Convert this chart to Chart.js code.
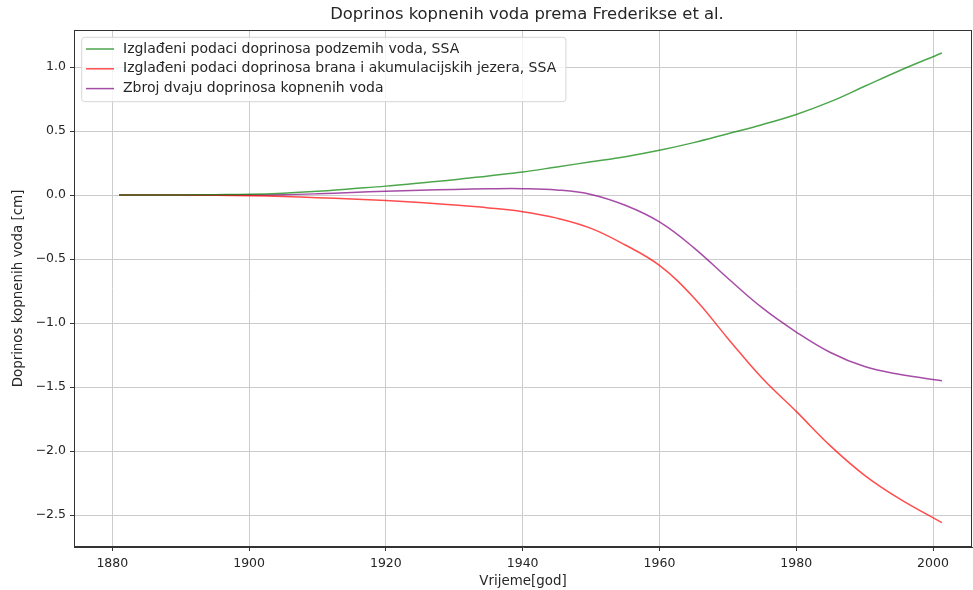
<!DOCTYPE html>
<html>
<head>
<meta charset="utf-8">
<script src="https://cdn.jsdelivr.net/npm/chart.js@4.4.1/dist/chart.umd.min.js"></script>
<style>
  html, body { margin: 0; padding: 0; background: #fff; }
  #wrap { width: 973px; height: 590px; position: relative; }
</style>
</head>
<body>
<div id="wrap"><canvas id="chart"></canvas></div>
<script>
// ── Data ──────────────────────────────────────────────────────
const years = [1881, 1885, 1890, 1895, 1900, 1905, 1910, 1915, 1920, 1925, 1930, 1935,
               1940, 1945, 1950, 1955, 1960, 1965, 1970, 1975, 1980, 1985, 1990, 1995, 2001.3];

const groundwater = [0, 0, 0.001, 0.003, 0.006, 0.015, 0.03, 0.05, 0.07, 0.095, 0.12, 0.15,
                     0.18, 0.22, 0.26, 0.30, 0.35, 0.41, 0.48, 0.55, 0.63, 0.73, 0.85, 0.97, 1.11];

const dams = [0, 0, 0, -0.002, -0.005, -0.012, -0.02, -0.03, -0.042, -0.058, -0.078, -0.10,
              -0.13, -0.18, -0.26, -0.39, -0.55, -0.80, -1.12, -1.43, -1.69, -1.96, -2.19, -2.37, -2.56];

const total = [0, 0, 0.001, 0.001, 0.001, 0.003, 0.01, 0.02, 0.03, 0.038, 0.044, 0.049,
               0.05, 0.04, 0.005, -0.08, -0.21, -0.41, -0.65, -0.88, -1.07, -1.23, -1.34, -1.40, -1.45];

const seriesLabels = [
  'Izglađeni podaci doprinosa podzemih voda, SSA',
  'Izglađeni podaci doprinosa brana i akumulacijskih jezera, SSA',
  'Zbroj dvaju doprinosa kopnenih voda'
];

const xTicks = [1880, 1900, 1920, 1940, 1960, 1980, 2000];
const yTicks = [-2.5, -2.0, -1.5, -1.0, -0.5, 0.0, 0.5, 1.0];

const TITLE = 'Doprinos kopnenih voda prema Frederikse et al.';
const FONT = "'DejaVu Sans', sans-serif";
const TEXT = '#262626';

const toPoints = vals => vals.map((v, i) => ({ x: years[i], y: v }));

// ── Plugins: frame + title over axes + legend box ─────────────
const frame = {
  id: 'frame',
  afterDraw(chart) {
    const { ctx, chartArea: a } = chart;
    ctx.save();
    ctx.strokeStyle = '#333';
    ctx.lineWidth = 1;
    ctx.strokeRect(a.left + 0.5, a.top + 0.5, a.right - a.left - 1, a.bottom - a.top - 1);
    // title centred over the axes, like matplotlib
    ctx.fillStyle = TEXT;
    ctx.font = `16.4px ${FONT}`;
    ctx.textAlign = 'center';
    ctx.textBaseline = 'middle';
    ctx.fillText(TITLE, (a.left + a.right) / 2 + 4, 15);
    ctx.restore();
  }
};

const boxLegend = {
  id: 'boxLegend',
  afterDraw(chart) {
    const { ctx, chartArea: a } = chart;
    const x0 = a.left + 7.7, y0 = a.top + 7.3;
    const rowH = 19.8;
    ctx.save();
    ctx.font = `14px ${FONT}`;
    const sets = chart.data.datasets;
    const w = Math.max(...sets.map(d => ctx.measureText(d.label).width)) + 51;
    const h = 64.4;
    ctx.fillStyle = 'rgba(255,255,255,0.8)';
    ctx.strokeStyle = '#d6d6d6';
    ctx.lineWidth = 1;
    ctx.beginPath();
    ctx.roundRect(x0, y0, w, h, 3);
    ctx.fill();
    ctx.stroke();
    ctx.textBaseline = 'middle';
    sets.forEach((d, i) => {
      const cy = y0 + 11.7 + i * rowH;
      ctx.strokeStyle = d.borderColor;
      ctx.lineWidth = 1.5;
      ctx.beginPath();
      ctx.moveTo(x0 + 4.3, cy);
      ctx.lineTo(x0 + 32.3, cy);
      ctx.stroke();
      ctx.fillStyle = TEXT;
      ctx.fillText(d.label, x0 + 41.3, cy);
    });
    ctx.restore();
  }
};

const fmt = v => {
  const s = Math.abs(v).toFixed(1);
  return v < 0 ? '\u2212' + s : s;
};

new Chart(document.getElementById('chart'), {
  type: 'line',
  data: {
    datasets: [
      { label: seriesLabels[0], data: toPoints(groundwater), borderColor: 'rgba(0,128,0,0.7)' },
      { label: seriesLabels[1], data: toPoints(dams), borderColor: 'rgba(255,0,0,0.7)' },
      { label: seriesLabels[2], data: toPoints(total), borderColor: 'rgba(128,0,128,0.7)' }
    ].map(d => ({ ...d, borderWidth: 1.5, pointRadius: 0, fill: false, tension: 0.4 }))
  },
  options: {
    responsive: true,
    maintainAspectRatio: false,
    animation: false,
    layout: { padding: { left: 0, right: 1, top: 30, bottom: 0 } },
    plugins: {
      legend: { display: false },
      tooltip: { enabled: false },
      title: { display: false }
    },
    scales: {
      x: {
        type: 'linear',
        min: 1874.4,
        max: 2005.7,
        afterBuildTicks: ax => { ax.ticks = xTicks.map(v => ({ value: v })); },
        afterFit: ax => { ax.height = 43; },
        grid: { color: '#cccccc', lineWidth: 1, tickColor: '#333', tickLength: 4 },
        border: { display: true, color: '#333', width: 1 },
        ticks: { color: TEXT, font: { family: FONT, size: 12.5 }, padding: 5, maxRotation: 0,
                 callback: v => String(v) },
        title: { display: true, text: 'Vrijeme[god]', color: TEXT,
                 font: { family: FONT, size: 13.4 }, padding: { top: 2, bottom: 0 } }
      },
      y: {
        min: -2.75,
        max: 1.29,
        afterBuildTicks: ax => { ax.ticks = yTicks.map(v => ({ value: v })); },
        afterFit: ax => { ax.width = 74; },
        grid: { color: '#cccccc', lineWidth: 1, tickColor: '#333', tickLength: 4 },
        border: { display: true, color: '#333', width: 1 },
        ticks: { color: TEXT, font: { family: FONT, size: 12.5 }, padding: 4, callback: v => fmt(v) },
        title: { display: true, text: 'Doprinos kopnenih voda [cm]', color: TEXT,
                 font: { family: FONT, size: 13.4 }, padding: { top: 10, bottom: 6 } }
      }
    }
  },
  plugins: [frame, boxLegend]
});
</script>
</body>
</html>
